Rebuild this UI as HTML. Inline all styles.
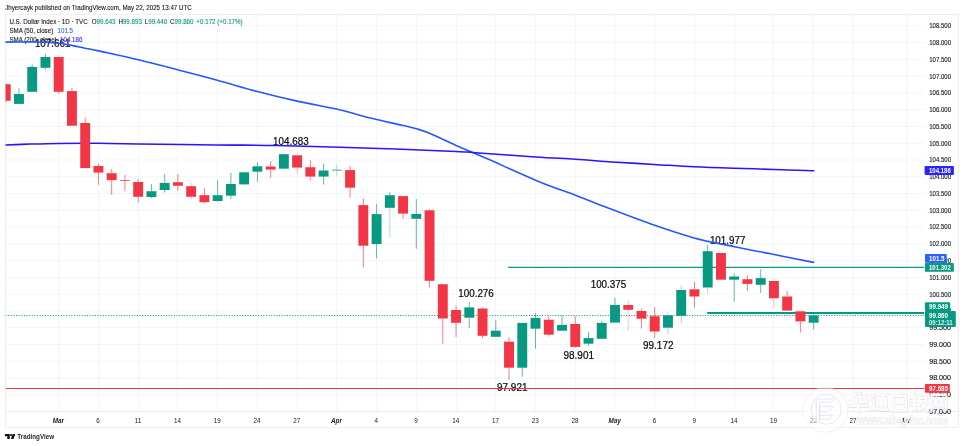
<!DOCTYPE html>
<html><head><meta charset="utf-8"><title>U.S. Dollar Index</title>
<style>html,body{margin:0;padding:0;background:#fff;}body{width:964px;height:446px;overflow:hidden;position:relative;}svg{display:block;position:absolute;left:0;top:0;will-change:transform;}text{font-family:"Liberation Sans",sans-serif;}</style></head><body>
<svg width="964" height="446" viewBox="0 0 964 446">
<rect x="0" y="0" width="964" height="446" fill="#ffffff"/>
<text x="5.2" y="9.8" font-size="6.6" fill="#16161c" stroke="#16161c" stroke-width="0.1" textLength="186.6" lengthAdjust="spacingAndGlyphs">Jhyercayk published on TradingView.com, May 22, 2025 13:47 UTC</text>
<g stroke="#f4f5f6" stroke-width="1" shape-rendering="auto">
<line x1="58.5" y1="14.5" x2="58.5" y2="411.5"/>
<line x1="98.5" y1="14.5" x2="98.5" y2="411.5"/>
<line x1="138.5" y1="14.5" x2="138.5" y2="411.5"/>
<line x1="177.5" y1="14.5" x2="177.5" y2="411.5"/>
<line x1="217.5" y1="14.5" x2="217.5" y2="411.5"/>
<line x1="257.5" y1="14.5" x2="257.5" y2="411.5"/>
<line x1="297.5" y1="14.5" x2="297.5" y2="411.5"/>
<line x1="336.5" y1="14.5" x2="336.5" y2="411.5"/>
<line x1="376.5" y1="14.5" x2="376.5" y2="411.5"/>
<line x1="416.5" y1="14.5" x2="416.5" y2="411.5"/>
<line x1="456.5" y1="14.5" x2="456.5" y2="411.5"/>
<line x1="495.5" y1="14.5" x2="495.5" y2="411.5"/>
<line x1="535.5" y1="14.5" x2="535.5" y2="411.5"/>
<line x1="575.5" y1="14.5" x2="575.5" y2="411.5"/>
<line x1="614.5" y1="14.5" x2="614.5" y2="411.5"/>
<line x1="654.5" y1="14.5" x2="654.5" y2="411.5"/>
<line x1="694.5" y1="14.5" x2="694.5" y2="411.5"/>
<line x1="734.5" y1="14.5" x2="734.5" y2="411.5"/>
<line x1="773.5" y1="14.5" x2="773.5" y2="411.5"/>
<line x1="813.5" y1="14.5" x2="813.5" y2="411.5"/>
<line x1="853.5" y1="14.5" x2="853.5" y2="411.5"/>
<line x1="906.5" y1="14.5" x2="906.5" y2="411.5"/>
<line x1="5.5" y1="25.83" x2="924.0" y2="25.83"/>
<line x1="5.5" y1="42.60" x2="924.0" y2="42.60"/>
<line x1="5.5" y1="59.38" x2="924.0" y2="59.38"/>
<line x1="5.5" y1="76.15" x2="924.0" y2="76.15"/>
<line x1="5.5" y1="92.92" x2="924.0" y2="92.92"/>
<line x1="5.5" y1="109.70" x2="924.0" y2="109.70"/>
<line x1="5.5" y1="126.47" x2="924.0" y2="126.47"/>
<line x1="5.5" y1="143.25" x2="924.0" y2="143.25"/>
<line x1="5.5" y1="160.02" x2="924.0" y2="160.02"/>
<line x1="5.5" y1="176.80" x2="924.0" y2="176.80"/>
<line x1="5.5" y1="193.57" x2="924.0" y2="193.57"/>
<line x1="5.5" y1="210.35" x2="924.0" y2="210.35"/>
<line x1="5.5" y1="227.12" x2="924.0" y2="227.12"/>
<line x1="5.5" y1="243.90" x2="924.0" y2="243.90"/>
<line x1="5.5" y1="260.68" x2="924.0" y2="260.68"/>
<line x1="5.5" y1="277.45" x2="924.0" y2="277.45"/>
<line x1="5.5" y1="294.22" x2="924.0" y2="294.22"/>
<line x1="5.5" y1="311.00" x2="924.0" y2="311.00"/>
<line x1="5.5" y1="327.77" x2="924.0" y2="327.77"/>
<line x1="5.5" y1="344.55" x2="924.0" y2="344.55"/>
<line x1="5.5" y1="361.32" x2="924.0" y2="361.32"/>
<line x1="5.5" y1="378.10" x2="924.0" y2="378.10"/>
<line x1="5.5" y1="394.88" x2="924.0" y2="394.88"/>
<line x1="5.5" y1="411.65" x2="924.0" y2="411.65"/>
</g>
<g stroke="#edeef0" stroke-width="1" fill="none">
<rect x="5.5" y="14.5" width="953.0" height="413.0"/>
<line x1="5.5" y1="411.5" x2="958.5" y2="411.5"/>
</g>
<defs><clipPath id="cp"><rect x="5.5" y="14.5" width="919.0" height="397.0"/></clipPath></defs>
<text x="34.9" y="47.0" font-size="10.6" fill="#0b0b10" stroke="#0b0b10" stroke-width="0.22" textLength="35.5" lengthAdjust="spacingAndGlyphs">107.661</text>
<text x="273.1" y="145.4" font-size="10.6" fill="#0b0b10" stroke="#0b0b10" stroke-width="0.22" textLength="35.5" lengthAdjust="spacingAndGlyphs">104.683</text>
<text x="458.3" y="296.6" font-size="10.6" fill="#0b0b10" stroke="#0b0b10" stroke-width="0.22" textLength="35.5" lengthAdjust="spacingAndGlyphs">100.276</text>
<text x="497.0" y="390.9" font-size="10.6" fill="#0b0b10" stroke="#0b0b10" stroke-width="0.22" textLength="30.5" lengthAdjust="spacingAndGlyphs">97.921</text>
<text x="563.5" y="359.2" font-size="10.6" fill="#0b0b10" stroke="#0b0b10" stroke-width="0.22" textLength="30.5" lengthAdjust="spacingAndGlyphs">98.901</text>
<text x="590.7" y="287.6" font-size="10.6" fill="#0b0b10" stroke="#0b0b10" stroke-width="0.22" textLength="35.5" lengthAdjust="spacingAndGlyphs">100.375</text>
<text x="643.0" y="349.2" font-size="10.6" fill="#0b0b10" stroke="#0b0b10" stroke-width="0.22" textLength="30.5" lengthAdjust="spacingAndGlyphs">99.172</text>
<text x="709.9" y="244.2" font-size="10.6" fill="#0b0b10" stroke="#0b0b10" stroke-width="0.22" textLength="35.5" lengthAdjust="spacingAndGlyphs">101.977</text>
<text transform="translate(9.4,23.8) scale(0.95,1)" font-size="6.55" fill="#131722" stroke="#131722" stroke-width="0.1">U.S. Dollar Index · 1D · TVC <tspan dx="2.5">O</tspan><tspan fill="#089981" stroke="#089981">99.643</tspan><tspan dx="3">H</tspan><tspan fill="#089981" stroke="#089981">99.893</tspan><tspan dx="3">L</tspan><tspan fill="#089981" stroke="#089981">99.440</tspan><tspan dx="3">C</tspan><tspan fill="#089981" stroke="#089981">99.860</tspan><tspan dx="3" stroke="#089981" fill="#089981">+0.172 (+0.17%)</tspan></text>
<text transform="translate(9.4,33.1) scale(0.95,1)" font-size="6.55" fill="#131722" stroke="#131722" stroke-width="0.1">SMA (50, close)<tspan dx="4.5" fill="#2962FF" stroke="#2962FF">101.5</tspan></text>
<text transform="translate(9.4,41.7) scale(0.95,1)" font-size="6.55" fill="#131722" stroke="#131722" stroke-width="0.1">SMA (200, close)<tspan dx="3.5" fill="#3a22ff" stroke="#3a22ff">104.186</tspan></text>
<g clip-path="url(#cp)">
<line x1="5.5" y1="388.45" x2="924.5" y2="388.45" stroke="#F23645" stroke-width="1.1"/>
<line x1="508" y1="267.3" x2="924.5" y2="267.3" stroke="#089981" stroke-width="1.3"/>
<line x1="707.2" y1="313" x2="924.5" y2="313" stroke="#089981" stroke-width="2"/>
<line x1="5.5" y1="315.5" x2="924.5" y2="315.5" stroke="#089981" stroke-width="1" stroke-dasharray="1.05 1.58"/>
<path d="M5.4 42.1 C9.5 42.1 23.4 41.9 30.0 41.9 C36.6 41.9 40.2 42.0 45.0 42.2 C49.8 42.4 54.5 42.7 58.7 43.2 C62.9 43.7 65.8 44.3 70.0 45.1 C74.2 45.9 79.2 47.0 84.0 48.0 C88.8 49.0 89.5 48.9 98.5 50.9 C107.5 52.9 125.0 56.6 138.3 59.8 C151.6 63.0 165.1 66.5 178.3 69.9 C191.5 73.3 204.2 76.7 217.4 80.3 C230.6 83.9 244.1 88.0 257.4 91.5 C270.7 95.0 283.8 98.2 297.0 101.1 C310.2 104.0 326.7 106.8 336.5 109.0 C346.3 111.2 349.3 112.5 356.0 114.2 C362.7 116.0 369.8 117.9 376.5 119.5 C383.2 121.1 389.3 122.4 396.0 123.9 C402.7 125.5 411.1 127.3 416.6 128.8 C422.1 130.3 422.4 130.3 429.0 133.1 C435.6 135.9 448.2 142.0 456.0 145.4 C463.8 148.8 469.0 150.9 475.6 153.7 C482.2 156.5 489.9 159.7 495.5 162.2 C501.1 164.7 502.3 165.6 509.0 168.6 C515.7 171.6 527.7 176.9 535.5 180.2 C543.3 183.5 549.3 185.8 556.0 188.3 C562.7 190.8 568.2 192.4 575.5 195.2 C582.8 198.0 586.9 199.9 600.0 204.9 C613.1 209.9 638.3 219.6 654.0 225.1 C669.7 230.6 680.6 234.3 694.0 237.9 C707.4 241.5 721.2 243.9 734.5 246.7 C747.8 249.5 760.8 251.9 774.0 254.5 C787.2 257.1 807.0 261.1 813.6 262.4" fill="none" stroke="#2259ff" stroke-width="1.6" stroke-linejoin="round" stroke-linecap="round"/>
<path transform="translate(0,0.3)" d="M5.4 144.8 C9.5 144.6 21.2 144.1 30.0 143.8 C38.8 143.5 46.7 143.2 58.0 143.1 C69.3 143.0 84.7 142.9 98.0 143.0 C111.3 143.1 118.3 143.3 138.0 143.6 C157.7 143.9 193.0 144.3 216.0 144.6 C239.0 144.9 255.3 144.8 276.0 145.2 C296.7 145.6 320.0 146.4 340.0 147.0 C360.0 147.6 376.7 148.1 396.0 148.8 C415.3 149.5 442.8 150.6 456.0 151.2 C469.2 151.8 461.8 151.5 475.0 152.4 C488.2 153.3 518.8 155.5 535.5 156.6 C552.2 157.7 562.8 158.1 575.5 158.9 C588.2 159.7 598.9 160.7 612.0 161.6 C625.1 162.5 640.3 163.3 654.0 164.1 C667.7 164.9 680.7 165.9 694.0 166.5 C707.3 167.1 720.7 167.5 734.0 167.9 C747.3 168.3 760.7 168.8 774.0 169.2 C787.3 169.6 807.2 170.2 813.8 170.4" fill="none" stroke="#2a14ff" stroke-width="1.55" stroke-linejoin="round" stroke-linecap="round"/>
<line x1="5.72" y1="83.2" x2="5.72" y2="84.2" stroke="#F23645" stroke-width="0.65" stroke-opacity="1"/>
<line x1="5.72" y1="100.8" x2="5.72" y2="102.9" stroke="#F23645" stroke-width="0.65" stroke-opacity="1"/>
<rect x="0.77" y="84.2" width="9.9" height="16.6" fill="#F23645"/>
<line x1="18.97" y1="87.8" x2="18.97" y2="94.0" stroke="#089981" stroke-width="0.65" stroke-opacity="1"/>
<rect x="14.02" y="94.0" width="9.9" height="9.9" fill="#089981"/>
<line x1="32.21" y1="64.4" x2="32.21" y2="66.9" stroke="#089981" stroke-width="0.65" stroke-opacity="1"/>
<rect x="27.26" y="66.9" width="9.9" height="24.9" fill="#089981"/>
<line x1="45.46" y1="53.9" x2="45.46" y2="57.0" stroke="#089981" stroke-width="0.65" stroke-opacity="1"/>
<line x1="45.46" y1="67.8" x2="45.46" y2="69.6" stroke="#089981" stroke-width="0.65" stroke-opacity="1"/>
<rect x="40.51" y="57.0" width="9.9" height="10.8" fill="#089981"/>
<line x1="58.70" y1="91.8" x2="58.70" y2="93.8" stroke="#F23645" stroke-width="0.65" stroke-opacity="1"/>
<rect x="53.75" y="57.0" width="9.9" height="34.8" fill="#F23645"/>
<line x1="71.95" y1="87.8" x2="71.95" y2="91.1" stroke="#F23645" stroke-width="0.65" stroke-opacity="1"/>
<rect x="67.00" y="91.1" width="9.9" height="34.6" fill="#F23645"/>
<line x1="85.19" y1="117.4" x2="85.19" y2="123.0" stroke="#F23645" stroke-width="0.65" stroke-opacity="1"/>
<rect x="80.24" y="123.0" width="9.9" height="45.1" fill="#F23645"/>
<line x1="98.44" y1="163.8" x2="98.44" y2="166.0" stroke="#F23645" stroke-width="0.65" stroke-opacity="1"/>
<line x1="98.44" y1="172.6" x2="98.44" y2="184.7" stroke="#F23645" stroke-width="0.65" stroke-opacity="1"/>
<rect x="93.48" y="166.0" width="9.9" height="6.6" fill="#F23645"/>
<line x1="111.68" y1="169.0" x2="111.68" y2="173.2" stroke="#F23645" stroke-width="0.65" stroke-opacity="1"/>
<line x1="111.68" y1="180.2" x2="111.68" y2="194.8" stroke="#F23645" stroke-width="0.65" stroke-opacity="1"/>
<rect x="106.73" y="173.2" width="9.9" height="7.0" fill="#F23645"/>
<line x1="124.92" y1="175.0" x2="124.92" y2="180.0" stroke="#F23645" stroke-width="0.65" stroke-opacity="1"/>
<line x1="124.92" y1="180.8" x2="124.92" y2="191.4" stroke="#F23645" stroke-width="0.65" stroke-opacity="1"/>
<rect x="119.97" y="180.0" width="9.9" height="0.8" fill="#F23645"/>
<line x1="138.17" y1="179.0" x2="138.17" y2="182.0" stroke="#F23645" stroke-width="0.65" stroke-opacity="1"/>
<line x1="138.17" y1="196.8" x2="138.17" y2="202.6" stroke="#F23645" stroke-width="0.65" stroke-opacity="1"/>
<rect x="133.22" y="182.0" width="9.9" height="14.8" fill="#F23645"/>
<line x1="151.41" y1="184.0" x2="151.41" y2="191.2" stroke="#089981" stroke-width="0.65" stroke-opacity="1"/>
<line x1="151.41" y1="197.0" x2="151.41" y2="198.1" stroke="#089981" stroke-width="0.65" stroke-opacity="1"/>
<rect x="146.47" y="191.2" width="9.9" height="5.8" fill="#089981"/>
<line x1="164.66" y1="174.1" x2="164.66" y2="182.9" stroke="#089981" stroke-width="0.65" stroke-opacity="1"/>
<line x1="164.66" y1="190.0" x2="164.66" y2="192.5" stroke="#089981" stroke-width="0.65" stroke-opacity="1"/>
<rect x="159.71" y="182.9" width="9.9" height="7.1" fill="#089981"/>
<line x1="177.91" y1="173.9" x2="177.91" y2="182.2" stroke="#F23645" stroke-width="0.65" stroke-opacity="1"/>
<line x1="177.91" y1="185.8" x2="177.91" y2="190.7" stroke="#F23645" stroke-width="0.65" stroke-opacity="1"/>
<rect x="172.96" y="182.2" width="9.9" height="3.6" fill="#F23645"/>
<line x1="191.15" y1="183.0" x2="191.15" y2="186.2" stroke="#F23645" stroke-width="0.65" stroke-opacity="0.5"/>
<line x1="191.15" y1="196.8" x2="191.15" y2="199.2" stroke="#F23645" stroke-width="0.65" stroke-opacity="0.5"/>
<rect x="186.20" y="186.2" width="9.9" height="10.6" fill="#F23645"/>
<line x1="204.39" y1="188.0" x2="204.39" y2="195.2" stroke="#F23645" stroke-width="0.65" stroke-opacity="1"/>
<line x1="204.39" y1="202.2" x2="204.39" y2="203.7" stroke="#F23645" stroke-width="0.65" stroke-opacity="1"/>
<rect x="199.44" y="195.2" width="9.9" height="7.0" fill="#F23645"/>
<line x1="217.64" y1="180.0" x2="217.64" y2="195.2" stroke="#089981" stroke-width="0.65" stroke-opacity="1"/>
<line x1="217.64" y1="201.0" x2="217.64" y2="201.9" stroke="#089981" stroke-width="0.65" stroke-opacity="1"/>
<rect x="212.69" y="195.2" width="9.9" height="5.8" fill="#089981"/>
<line x1="230.88" y1="172.8" x2="230.88" y2="184.0" stroke="#089981" stroke-width="0.65" stroke-opacity="1"/>
<line x1="230.88" y1="195.7" x2="230.88" y2="198.8" stroke="#089981" stroke-width="0.65" stroke-opacity="1"/>
<rect x="225.94" y="184.0" width="9.9" height="11.7" fill="#089981"/>
<rect x="239.18" y="172.3" width="9.9" height="12.1" fill="#089981"/>
<line x1="257.38" y1="162.0" x2="257.38" y2="166.3" stroke="#089981" stroke-width="0.65" stroke-opacity="1"/>
<line x1="257.38" y1="171.7" x2="257.38" y2="181.7" stroke="#089981" stroke-width="0.65" stroke-opacity="1"/>
<rect x="252.43" y="166.3" width="9.9" height="5.4" fill="#089981"/>
<line x1="270.62" y1="161.1" x2="270.62" y2="166.5" stroke="#F23645" stroke-width="0.65" stroke-opacity="1"/>
<line x1="270.62" y1="169.6" x2="270.62" y2="177.9" stroke="#F23645" stroke-width="0.65" stroke-opacity="1"/>
<rect x="265.67" y="166.5" width="9.9" height="3.1" fill="#F23645"/>
<rect x="278.92" y="154.2" width="9.9" height="14.5" fill="#089981"/>
<line x1="297.11" y1="167.6" x2="297.11" y2="173.5" stroke="#F23645" stroke-width="0.65" stroke-opacity="0.5"/>
<rect x="292.16" y="155.3" width="9.9" height="12.3" fill="#F23645"/>
<line x1="310.35" y1="160.2" x2="310.35" y2="167.2" stroke="#F23645" stroke-width="0.65" stroke-opacity="1"/>
<line x1="310.35" y1="176.6" x2="310.35" y2="180.4" stroke="#F23645" stroke-width="0.65" stroke-opacity="1"/>
<rect x="305.40" y="167.2" width="9.9" height="9.4" fill="#F23645"/>
<line x1="323.60" y1="163.8" x2="323.60" y2="170.5" stroke="#089981" stroke-width="0.65" stroke-opacity="1"/>
<line x1="323.60" y1="176.6" x2="323.60" y2="184.7" stroke="#089981" stroke-width="0.65" stroke-opacity="1"/>
<rect x="318.65" y="170.5" width="9.9" height="6.1" fill="#089981"/>
<line x1="336.84" y1="164.5" x2="336.84" y2="169.7" stroke="#089981" stroke-width="0.65" stroke-opacity="0.45"/>
<line x1="336.84" y1="170.5" x2="336.84" y2="175.7" stroke="#089981" stroke-width="0.65" stroke-opacity="0.45"/>
<rect x="331.89" y="169.7" width="9.9" height="0.8" fill="#089981"/>
<line x1="350.09" y1="166.0" x2="350.09" y2="170.1" stroke="#F23645" stroke-width="0.65" stroke-opacity="1"/>
<line x1="350.09" y1="187.7" x2="350.09" y2="197.7" stroke="#F23645" stroke-width="0.65" stroke-opacity="1"/>
<rect x="345.14" y="170.1" width="9.9" height="17.6" fill="#F23645"/>
<line x1="363.33" y1="198.3" x2="363.33" y2="205.1" stroke="#F23645" stroke-width="0.65" stroke-opacity="1"/>
<line x1="363.33" y1="245.7" x2="363.33" y2="267.4" stroke="#F23645" stroke-width="0.65" stroke-opacity="1"/>
<rect x="358.38" y="205.1" width="9.9" height="40.6" fill="#F23645"/>
<line x1="376.58" y1="204.2" x2="376.58" y2="214.1" stroke="#089981" stroke-width="0.65" stroke-opacity="1"/>
<line x1="376.58" y1="244.1" x2="376.58" y2="258.5" stroke="#089981" stroke-width="0.65" stroke-opacity="1"/>
<rect x="371.63" y="214.1" width="9.9" height="30.0" fill="#089981"/>
<line x1="389.82" y1="192.2" x2="389.82" y2="195.2" stroke="#089981" stroke-width="0.65" stroke-opacity="1"/>
<line x1="389.82" y1="207.8" x2="389.82" y2="237.6" stroke="#089981" stroke-width="0.65" stroke-opacity="0.5"/>
<rect x="384.88" y="195.2" width="9.9" height="12.6" fill="#089981"/>
<line x1="403.07" y1="213.6" x2="403.07" y2="218.8" stroke="#F23645" stroke-width="0.65" stroke-opacity="1"/>
<rect x="398.12" y="196.1" width="9.9" height="17.5" fill="#F23645"/>
<line x1="416.31" y1="199.1" x2="416.31" y2="213.9" stroke="#089981" stroke-width="0.65" stroke-opacity="1"/>
<line x1="416.31" y1="218.8" x2="416.31" y2="248.8" stroke="#089981" stroke-width="0.65" stroke-opacity="1"/>
<rect x="411.36" y="213.9" width="9.9" height="4.9" fill="#089981"/>
<line x1="429.56" y1="209.1" x2="429.56" y2="210.3" stroke="#F23645" stroke-width="0.65" stroke-opacity="1"/>
<line x1="429.56" y1="280.8" x2="429.56" y2="287.5" stroke="#F23645" stroke-width="0.65" stroke-opacity="1"/>
<rect x="424.61" y="210.3" width="9.9" height="70.5" fill="#F23645"/>
<line x1="442.80" y1="318.5" x2="442.80" y2="343.7" stroke="#F23645" stroke-width="0.65" stroke-opacity="1"/>
<rect x="437.85" y="284.2" width="9.9" height="34.3" fill="#F23645"/>
<line x1="456.05" y1="305.2" x2="456.05" y2="310.0" stroke="#F23645" stroke-width="0.65" stroke-opacity="1"/>
<line x1="456.05" y1="322.8" x2="456.05" y2="337.0" stroke="#F23645" stroke-width="0.65" stroke-opacity="1"/>
<rect x="451.10" y="310.0" width="9.9" height="12.8" fill="#F23645"/>
<line x1="469.29" y1="301.8" x2="469.29" y2="307.4" stroke="#089981" stroke-width="0.65" stroke-opacity="1"/>
<line x1="469.29" y1="317.7" x2="469.29" y2="328.0" stroke="#089981" stroke-width="0.65" stroke-opacity="1"/>
<rect x="464.34" y="307.4" width="9.9" height="10.3" fill="#089981"/>
<line x1="482.54" y1="307.2" x2="482.54" y2="308.5" stroke="#F23645" stroke-width="0.65" stroke-opacity="1"/>
<line x1="482.54" y1="335.8" x2="482.54" y2="338.1" stroke="#F23645" stroke-width="0.65" stroke-opacity="1"/>
<rect x="477.59" y="308.5" width="9.9" height="27.3" fill="#F23645"/>
<line x1="495.78" y1="319.7" x2="495.78" y2="330.7" stroke="#089981" stroke-width="0.65" stroke-opacity="1"/>
<rect x="490.83" y="330.7" width="9.9" height="6.1" fill="#089981"/>
<line x1="509.03" y1="337.2" x2="509.03" y2="341.7" stroke="#F23645" stroke-width="0.65" stroke-opacity="1"/>
<line x1="509.03" y1="367.7" x2="509.03" y2="379.8" stroke="#F23645" stroke-width="0.65" stroke-opacity="1"/>
<rect x="504.08" y="341.7" width="9.9" height="26.0" fill="#F23645"/>
<line x1="522.27" y1="367.7" x2="522.27" y2="376.7" stroke="#089981" stroke-width="0.65" stroke-opacity="1"/>
<rect x="517.32" y="322.9" width="9.9" height="44.8" fill="#089981"/>
<line x1="535.52" y1="313.0" x2="535.52" y2="317.9" stroke="#089981" stroke-width="0.65" stroke-opacity="1"/>
<line x1="535.52" y1="328.7" x2="535.52" y2="348.7" stroke="#089981" stroke-width="0.65" stroke-opacity="1"/>
<rect x="530.57" y="317.9" width="9.9" height="10.8" fill="#089981"/>
<line x1="548.76" y1="316.1" x2="548.76" y2="319.7" stroke="#F23645" stroke-width="0.65" stroke-opacity="1"/>
<line x1="548.76" y1="334.7" x2="548.76" y2="336.5" stroke="#F23645" stroke-width="0.65" stroke-opacity="1"/>
<rect x="543.81" y="319.7" width="9.9" height="15.0" fill="#F23645"/>
<line x1="562.01" y1="315.2" x2="562.01" y2="324.9" stroke="#089981" stroke-width="0.65" stroke-opacity="1"/>
<rect x="557.06" y="324.9" width="9.9" height="5.8" fill="#089981"/>
<line x1="575.25" y1="316.1" x2="575.25" y2="324.0" stroke="#F23645" stroke-width="0.65" stroke-opacity="1"/>
<line x1="575.25" y1="346.9" x2="575.25" y2="347.8" stroke="#F23645" stroke-width="0.65" stroke-opacity="1"/>
<rect x="570.30" y="324.0" width="9.9" height="22.9" fill="#F23645"/>
<line x1="588.50" y1="332.1" x2="588.50" y2="338.1" stroke="#089981" stroke-width="0.65" stroke-opacity="1"/>
<line x1="588.50" y1="343.7" x2="588.50" y2="345.7" stroke="#089981" stroke-width="0.65" stroke-opacity="1"/>
<rect x="583.55" y="338.1" width="9.9" height="5.6" fill="#089981"/>
<line x1="601.75" y1="320.8" x2="601.75" y2="322.9" stroke="#089981" stroke-width="0.65" stroke-opacity="1"/>
<rect x="596.79" y="322.9" width="9.9" height="15.9" fill="#089981"/>
<line x1="614.99" y1="297.8" x2="614.99" y2="305.0" stroke="#089981" stroke-width="0.65" stroke-opacity="1"/>
<rect x="610.04" y="305.0" width="9.9" height="17.6" fill="#089981"/>
<line x1="628.24" y1="300.0" x2="628.24" y2="305.0" stroke="#F23645" stroke-width="0.65" stroke-opacity="0.45"/>
<line x1="628.24" y1="309.8" x2="628.24" y2="330.4" stroke="#F23645" stroke-width="0.65" stroke-opacity="0.45"/>
<rect x="623.28" y="305.0" width="9.9" height="4.8" fill="#F23645"/>
<line x1="641.48" y1="308.6" x2="641.48" y2="311.0" stroke="#F23645" stroke-width="0.65" stroke-opacity="1"/>
<line x1="641.48" y1="318.7" x2="641.48" y2="328.6" stroke="#F23645" stroke-width="0.65" stroke-opacity="1"/>
<rect x="636.53" y="311.0" width="9.9" height="7.7" fill="#F23645"/>
<line x1="654.73" y1="307.3" x2="654.73" y2="316.2" stroke="#F23645" stroke-width="0.65" stroke-opacity="1"/>
<line x1="654.73" y1="331.5" x2="654.73" y2="338.2" stroke="#F23645" stroke-width="0.65" stroke-opacity="1"/>
<rect x="649.77" y="316.2" width="9.9" height="15.3" fill="#F23645"/>
<line x1="667.97" y1="312.2" x2="667.97" y2="315.3" stroke="#089981" stroke-width="0.65" stroke-opacity="0.5"/>
<line x1="667.97" y1="327.7" x2="667.97" y2="334.2" stroke="#089981" stroke-width="0.65" stroke-opacity="0.5"/>
<rect x="663.02" y="315.3" width="9.9" height="12.4" fill="#089981"/>
<line x1="681.22" y1="285.5" x2="681.22" y2="290.0" stroke="#089981" stroke-width="0.65" stroke-opacity="0.5"/>
<line x1="681.22" y1="315.8" x2="681.22" y2="323.4" stroke="#089981" stroke-width="0.65" stroke-opacity="0.6"/>
<rect x="676.26" y="290.0" width="9.9" height="25.8" fill="#089981"/>
<line x1="694.46" y1="281.9" x2="694.46" y2="289.3" stroke="#F23645" stroke-width="0.65" stroke-opacity="1"/>
<line x1="694.46" y1="296.5" x2="694.46" y2="307.7" stroke="#F23645" stroke-width="0.65" stroke-opacity="1"/>
<rect x="689.51" y="289.3" width="9.9" height="7.2" fill="#F23645"/>
<line x1="707.71" y1="244.9" x2="707.71" y2="251.2" stroke="#089981" stroke-width="0.65" stroke-opacity="1"/>
<line x1="707.71" y1="287.5" x2="707.71" y2="293.8" stroke="#089981" stroke-width="0.65" stroke-opacity="0.5"/>
<rect x="702.75" y="251.2" width="9.9" height="36.3" fill="#089981"/>
<rect x="716.00" y="253.0" width="9.9" height="26.7" fill="#F23645"/>
<line x1="734.20" y1="273.2" x2="734.20" y2="276.5" stroke="#089981" stroke-width="0.65" stroke-opacity="1"/>
<line x1="734.20" y1="279.7" x2="734.20" y2="301.7" stroke="#089981" stroke-width="0.65" stroke-opacity="1"/>
<rect x="729.25" y="276.5" width="9.9" height="3.2" fill="#089981"/>
<line x1="747.44" y1="275.4" x2="747.44" y2="279.2" stroke="#F23645" stroke-width="0.65" stroke-opacity="1"/>
<line x1="747.44" y1="283.9" x2="747.44" y2="290.7" stroke="#F23645" stroke-width="0.65" stroke-opacity="1"/>
<rect x="742.49" y="279.2" width="9.9" height="4.7" fill="#F23645"/>
<line x1="760.69" y1="269.1" x2="760.69" y2="278.1" stroke="#089981" stroke-width="0.65" stroke-opacity="1"/>
<line x1="760.69" y1="284.8" x2="760.69" y2="292.9" stroke="#089981" stroke-width="0.65" stroke-opacity="1"/>
<rect x="755.74" y="278.1" width="9.9" height="6.7" fill="#089981"/>
<line x1="773.93" y1="298.3" x2="773.93" y2="308.4" stroke="#F23645" stroke-width="0.65" stroke-opacity="0.5"/>
<rect x="768.98" y="281.0" width="9.9" height="17.3" fill="#F23645"/>
<line x1="787.17" y1="291.1" x2="787.17" y2="296.5" stroke="#F23645" stroke-width="0.65" stroke-opacity="1"/>
<rect x="782.22" y="296.5" width="9.9" height="14.1" fill="#F23645"/>
<line x1="800.42" y1="321.4" x2="800.42" y2="332.6" stroke="#F23645" stroke-width="0.65" stroke-opacity="1"/>
<rect x="795.47" y="311.3" width="9.9" height="10.1" fill="#F23645"/>
<line x1="813.66" y1="314.4" x2="813.66" y2="315.4" stroke="#089981" stroke-width="0.65" stroke-opacity="1"/>
<line x1="813.66" y1="322.7" x2="813.66" y2="329.6" stroke="#089981" stroke-width="0.65" stroke-opacity="1"/>
<rect x="808.71" y="315.4" width="9.9" height="7.3" fill="#089981"/>
</g>
<text x="929.2" y="28.1" font-size="6.4" fill="#131722" stroke="#131722" stroke-width="0.12" textLength="21.8" lengthAdjust="spacingAndGlyphs">108.500</text>
<text x="929.2" y="44.9" font-size="6.4" fill="#131722" stroke="#131722" stroke-width="0.12" textLength="21.8" lengthAdjust="spacingAndGlyphs">108.000</text>
<text x="929.2" y="61.7" font-size="6.4" fill="#131722" stroke="#131722" stroke-width="0.12" textLength="21.8" lengthAdjust="spacingAndGlyphs">107.500</text>
<text x="929.2" y="78.5" font-size="6.4" fill="#131722" stroke="#131722" stroke-width="0.12" textLength="21.8" lengthAdjust="spacingAndGlyphs">107.000</text>
<text x="929.2" y="95.2" font-size="6.4" fill="#131722" stroke="#131722" stroke-width="0.12" textLength="21.8" lengthAdjust="spacingAndGlyphs">106.500</text>
<text x="929.2" y="112.0" font-size="6.4" fill="#131722" stroke="#131722" stroke-width="0.12" textLength="21.8" lengthAdjust="spacingAndGlyphs">106.000</text>
<text x="929.2" y="128.8" font-size="6.4" fill="#131722" stroke="#131722" stroke-width="0.12" textLength="21.8" lengthAdjust="spacingAndGlyphs">105.500</text>
<text x="929.2" y="145.6" font-size="6.4" fill="#131722" stroke="#131722" stroke-width="0.12" textLength="21.8" lengthAdjust="spacingAndGlyphs">105.000</text>
<text x="929.2" y="162.3" font-size="6.4" fill="#131722" stroke="#131722" stroke-width="0.12" textLength="21.8" lengthAdjust="spacingAndGlyphs">104.500</text>
<text x="929.2" y="179.1" font-size="6.4" fill="#131722" stroke="#131722" stroke-width="0.12" textLength="21.8" lengthAdjust="spacingAndGlyphs">104.000</text>
<text x="929.2" y="195.9" font-size="6.4" fill="#131722" stroke="#131722" stroke-width="0.12" textLength="21.8" lengthAdjust="spacingAndGlyphs">103.500</text>
<text x="929.2" y="212.7" font-size="6.4" fill="#131722" stroke="#131722" stroke-width="0.12" textLength="21.8" lengthAdjust="spacingAndGlyphs">103.000</text>
<text x="929.2" y="229.4" font-size="6.4" fill="#131722" stroke="#131722" stroke-width="0.12" textLength="21.8" lengthAdjust="spacingAndGlyphs">102.500</text>
<text x="929.2" y="246.2" font-size="6.4" fill="#131722" stroke="#131722" stroke-width="0.12" textLength="21.8" lengthAdjust="spacingAndGlyphs">102.000</text>
<text x="929.2" y="263.0" font-size="6.4" fill="#131722" stroke="#131722" stroke-width="0.12" textLength="21.8" lengthAdjust="spacingAndGlyphs">101.500</text>
<text x="929.2" y="279.8" font-size="6.4" fill="#131722" stroke="#131722" stroke-width="0.12" textLength="21.8" lengthAdjust="spacingAndGlyphs">101.000</text>
<text x="929.2" y="296.5" font-size="6.4" fill="#131722" stroke="#131722" stroke-width="0.12" textLength="21.8" lengthAdjust="spacingAndGlyphs">100.500</text>
<text x="929.2" y="313.3" font-size="6.4" fill="#131722" stroke="#131722" stroke-width="0.12" textLength="21.8" lengthAdjust="spacingAndGlyphs">100.000</text>
<text x="929.2" y="330.1" font-size="6.4" fill="#131722" stroke="#131722" stroke-width="0.12" textLength="21.8" lengthAdjust="spacingAndGlyphs">99.500</text>
<text x="929.2" y="346.9" font-size="6.4" fill="#131722" stroke="#131722" stroke-width="0.12" textLength="21.8" lengthAdjust="spacingAndGlyphs">99.000</text>
<text x="929.2" y="363.6" font-size="6.4" fill="#131722" stroke="#131722" stroke-width="0.12" textLength="21.8" lengthAdjust="spacingAndGlyphs">98.500</text>
<text x="929.2" y="380.4" font-size="6.4" fill="#131722" stroke="#131722" stroke-width="0.12" textLength="21.8" lengthAdjust="spacingAndGlyphs">98.000</text>
<text x="929.2" y="397.2" font-size="6.4" fill="#131722" stroke="#131722" stroke-width="0.12" textLength="21.8" lengthAdjust="spacingAndGlyphs">97.500</text>
<text x="929.2" y="413.9" font-size="6.4" fill="#131722" stroke="#131722" stroke-width="0.12" textLength="21.8" lengthAdjust="spacingAndGlyphs">97.000</text>
<rect x="924.6" y="166.0" width="29.3" height="8.9" rx="0.8" fill="#2e22ff"/>
<text x="929" y="172.7" font-size="6.4" font-weight="bold" fill="#fff" fill-opacity="1" textLength="21.8" lengthAdjust="spacingAndGlyphs">104.186</text>
<rect x="925.0" y="254.1" width="21.7" height="8.6" rx="0.8" fill="#2962FF"/>
<text x="929" y="260.7" font-size="6.4" font-weight="bold" fill="#fff" fill-opacity="1" textLength="15.5" lengthAdjust="spacingAndGlyphs">101.5</text>
<rect x="925.0" y="263.1" width="28.8" height="8.6" rx="0.8" fill="#089981"/>
<text x="929" y="269.7" font-size="6.4" font-weight="bold" fill="#fff" fill-opacity="1" textLength="21.8" lengthAdjust="spacingAndGlyphs">101.302</text>
<rect x="925.0" y="302.2" width="25.2" height="8.9" rx="0.8" fill="#089981"/>
<text x="929" y="308.9" font-size="6.4" font-weight="bold" fill="#fff" fill-opacity="1" textLength="19.0" lengthAdjust="spacingAndGlyphs">99.949</text>
<rect x="925.0" y="311.1" width="30.8" height="15.8" rx="0.8" fill="#089981"/>
<text x="929" y="317.8" font-size="6.4" font-weight="bold" fill="#fff" fill-opacity="1" textLength="19.0" lengthAdjust="spacingAndGlyphs">99.860</text>
<text x="929" y="325.4" font-size="6.4" font-weight="bold" fill="#fff" fill-opacity="0.85" textLength="23.6" lengthAdjust="spacingAndGlyphs">09:12:11</text>
<rect x="925.0" y="384.0" width="24.8" height="8.7" rx="0.8" fill="#F23645"/>
<text x="929" y="390.7" font-size="6.4" font-weight="bold" fill="#fff" fill-opacity="1" textLength="19.0" lengthAdjust="spacingAndGlyphs">97.685</text>
<text x="58.4" y="422.6" font-size="6.3" text-anchor="middle" fill="#131722" font-style="italic" font-weight="bold">Mar</text>
<text x="98.1" y="422.6" font-size="6.3" text-anchor="middle" fill="#131722">6</text>
<text x="137.9" y="422.6" font-size="6.3" text-anchor="middle" fill="#131722">11</text>
<text x="177.6" y="422.6" font-size="6.3" text-anchor="middle" fill="#131722">14</text>
<text x="217.3" y="422.6" font-size="6.3" text-anchor="middle" fill="#131722">19</text>
<text x="257.1" y="422.6" font-size="6.3" text-anchor="middle" fill="#131722">24</text>
<text x="296.8" y="422.6" font-size="6.3" text-anchor="middle" fill="#131722">27</text>
<text x="336.5" y="422.6" font-size="6.3" text-anchor="middle" fill="#131722" font-style="italic" font-weight="bold">Apr</text>
<text x="376.3" y="422.6" font-size="6.3" text-anchor="middle" fill="#131722">4</text>
<text x="416.0" y="422.6" font-size="6.3" text-anchor="middle" fill="#131722">9</text>
<text x="455.7" y="422.6" font-size="6.3" text-anchor="middle" fill="#131722">14</text>
<text x="495.5" y="422.6" font-size="6.3" text-anchor="middle" fill="#131722">17</text>
<text x="535.2" y="422.6" font-size="6.3" text-anchor="middle" fill="#131722">23</text>
<text x="575.0" y="422.6" font-size="6.3" text-anchor="middle" fill="#131722">28</text>
<text x="614.7" y="422.6" font-size="6.3" text-anchor="middle" fill="#131722" font-style="italic" font-weight="bold">May</text>
<text x="654.4" y="422.6" font-size="6.3" text-anchor="middle" fill="#131722">6</text>
<text x="694.2" y="422.6" font-size="6.3" text-anchor="middle" fill="#131722">9</text>
<text x="733.9" y="422.6" font-size="6.3" text-anchor="middle" fill="#131722">14</text>
<text x="773.6" y="422.6" font-size="6.3" text-anchor="middle" fill="#131722">19</text>
<text x="813.4" y="422.6" font-size="6.3" text-anchor="middle" fill="#131722">22</text>
<text x="853.1" y="422.6" font-size="6.3" text-anchor="middle" fill="#131722">27</text>
<text x="906.1" y="422.6" font-size="6.3" text-anchor="middle" fill="#131722" font-style="italic" font-weight="bold">Jun</text>
<g fill="#131722"><path d="M4.9 434h4.9v4.9h-2.5v-2.6h-2.4z"/><circle cx="11.1" cy="435.15" r="1.05"/><path d="M12.7 434h2.7l-1.9 4.9h-2.7z"/></g>
<text x="17.3" y="438.9" font-size="6.5" font-weight="bold" fill="#1e222d" textLength="36.8" lengthAdjust="spacingAndGlyphs">TradingView</text>
<defs><filter id="bl" x="-10%" y="-10%" width="120%" height="120%"><feGaussianBlur stdDeviation="0.35"/></filter></defs>
<circle cx="825.5" cy="409.6" r="19.1" fill="none" stroke="#fff" stroke-width="7" stroke-opacity="0.45"/>
<circle cx="826" cy="409.4" r="15.6" fill="#fff" fill-opacity="0.88"/>
<g fill="none" stroke="#c2c7d8" stroke-width="0.5">
<circle cx="825.5" cy="409.8" r="22.4" stroke-opacity="0.45"/>
<circle cx="826.3" cy="409.2" r="15" stroke-opacity="0.8"/>
<g stroke-opacity="0.9"><path d="M816.2 421.5v-19.5q0-3 3-3h15.5l-3.2 3.2h-10.3q-1.5 0-1.5 1.5v17.8"/>
<path d="M819.3 411.8v-3q0-2.4 2.4-2.4h11.2l-5.2 5.4z"/>
<path d="M819.3 415.2h13.6l-3.6 4.2h-8q-2 0-2-2z"/></g>
</g>
<path d="M855.25 393.74 L851.16 399.70M853.21 397.46 L853.21 403.42M860.09 393.74 L860.09 400.81 L860.83 401.93 L866.04 401.93 L866.41 400.07M865.67 395.60 L858.60 398.58M850.04 406.02 L867.16 406.02M858.60 402.67 L858.60 411.23M871.83 394.49 L873.32 395.98M870.34 399.70 L873.69 399.70 L873.69 406.39 L870.72 409.37M871.46 407.88 L875.55 409.00 L887.46 410.11M876.30 394.49 L885.60 394.49 L881.88 397.09M877.04 398.58 L877.04 407.14M877.04 398.58 L885.97 398.58 L885.97 406.39 L884.85 407.14M881.50 398.58 L881.50 407.14M877.04 401.56 L885.97 401.56M877.04 404.16 L885.97 404.16M900.07 393.37 L898.21 395.98M893.38 395.98 L906.02 395.98 L906.02 410.48 L893.38 410.48 L893.38 395.98M893.38 403.04 L906.02 403.04M914.44 393.74 L911.09 397.84M912.20 397.46 L917.04 397.46M911.09 401.18 L917.04 401.18M911.09 404.53 L917.04 404.53M914.06 397.84 L914.06 409.74 L917.04 407.88M919.27 394.49 L926.34 394.49 L926.34 401.18 L919.27 401.18M919.27 397.84 L926.34 397.84M919.27 394.49 L919.27 410.11 L922.25 408.25M926.71 403.42 L922.62 406.02M921.13 402.30 L927.46 410.86M931.43 410.86 L931.43 394.86 L945.94 394.86 L945.94 409.74 L944.08 410.48M934.04 398.58 L937.76 406.39M937.76 398.58 L934.04 406.39M939.62 398.58 L943.34 406.39M943.34 398.58 L939.62 406.39" fill="none" stroke="#878fa8" stroke-opacity="0.27" stroke-width="3.3" stroke-linecap="square" filter="url(#bl)" transform="translate(0.15,0.25)"/>
<path d="M855.25 393.74 L851.16 399.70M853.21 397.46 L853.21 403.42M860.09 393.74 L860.09 400.81 L860.83 401.93 L866.04 401.93 L866.41 400.07M865.67 395.60 L858.60 398.58M850.04 406.02 L867.16 406.02M858.60 402.67 L858.60 411.23M871.83 394.49 L873.32 395.98M870.34 399.70 L873.69 399.70 L873.69 406.39 L870.72 409.37M871.46 407.88 L875.55 409.00 L887.46 410.11M876.30 394.49 L885.60 394.49 L881.88 397.09M877.04 398.58 L877.04 407.14M877.04 398.58 L885.97 398.58 L885.97 406.39 L884.85 407.14M881.50 398.58 L881.50 407.14M877.04 401.56 L885.97 401.56M877.04 404.16 L885.97 404.16M900.07 393.37 L898.21 395.98M893.38 395.98 L906.02 395.98 L906.02 410.48 L893.38 410.48 L893.38 395.98M893.38 403.04 L906.02 403.04M914.44 393.74 L911.09 397.84M912.20 397.46 L917.04 397.46M911.09 401.18 L917.04 401.18M911.09 404.53 L917.04 404.53M914.06 397.84 L914.06 409.74 L917.04 407.88M919.27 394.49 L926.34 394.49 L926.34 401.18 L919.27 401.18M919.27 397.84 L926.34 397.84M919.27 394.49 L919.27 410.11 L922.25 408.25M926.71 403.42 L922.62 406.02M921.13 402.30 L927.46 410.86M931.43 410.86 L931.43 394.86 L945.94 394.86 L945.94 409.74 L944.08 410.48M934.04 398.58 L937.76 406.39M937.76 398.58 L934.04 406.39M939.62 398.58 L943.34 406.39M943.34 398.58 L939.62 406.39" fill="none" stroke="#fff" stroke-opacity="0.9" stroke-width="2.5" stroke-linecap="square"/>
<text x="856" y="424.2" font-size="10.5" font-weight="bold" font-style="italic" fill="#fff" stroke="#878fa8" stroke-opacity="0.25" stroke-width="0.9" textLength="92" lengthAdjust="spacingAndGlyphs" filter="url(#bl)" transform="translate(0.15,0.25)">www.cbsylm.com</text>
<text x="856" y="424.2" font-size="10.5" font-weight="bold" font-style="italic" fill="#fff" fill-opacity="0.8" textLength="92" lengthAdjust="spacingAndGlyphs">www.cbsylm.com</text>
</svg></body></html>
